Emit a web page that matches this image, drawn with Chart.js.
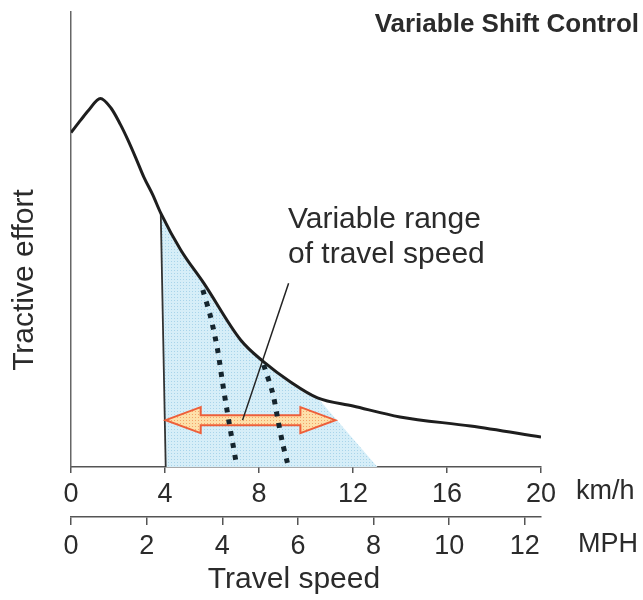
<!DOCTYPE html>
<html>
<head>
<meta charset="utf-8">
<script src="https://cdn.jsdelivr.net/npm/chart.js@4"></script>
<style>
  html, body { margin: 0; padding: 0; background: #fff; }
  #wrap { width: 643px; height: 600px; }
</style>
</head>
<body>
<div id="wrap"><canvas id="chart" width="643" height="600"></canvas></div>
<script>
// tractive effort curve (km/h, relative effort)
const effortX = [0, 0.42, 0.75, 1.25, 1.7, 2.1, 2.42, 2.76, 3.1, 3.48, 3.82, 4.67, 5.65, 7.22, 8.2, 9.34, 10.49, 12, 14, 17, 20];
const effortY = [73.5, 76.3, 78.4, 81, 78.9, 75.3, 71.9, 67.9, 63.7, 59.8, 55.8, 47.7, 40.4, 27.9, 23.1, 18.7, 15.2, 13.4, 11, 9.0, 6.6];

// shaded variable-speed region (closed outline)
const shadeX = [4.03, 3.82, 4.67, 5.65, 7.22, 8.2, 9.34, 10.49, 13.04, 4.03];
const shadeY = [0, 55.8, 47.7, 40.4, 27.9, 23.1, 18.7, 15.2, 0, 0];
const edgeX = [3.82, 4.03];
const edgeY = [55.8, 0];

// dotted shift lines
const dash1X = [5.61, 5.94, 6.24, 6.45, 6.71, 7.01];
const dash1Y = [38.9, 33.0, 25.7, 18.5, 10.3, 1.5];
const dash2X = [8.2, 8.58, 8.79, 9.0, 9.21];
const dash2Y = [22.4, 16.3, 10.8, 5.3, 0.9];

// annotation pointer and double arrow
const pointerX = [9.26, 7.3];
const pointerY = [40.4, 10.3];
const arrowX = [4.03, 11.25];
const arrowY = 10.3;

// axes
const kmhMax = 20;
const kmhStep = 4;
const mphPerKmh = 1 / 1.609344;
const mphStep = 2;

const FONT = '"Liberation Sans", Arial, Helvetica, sans-serif';
const INK = '#2b2b2b';

const pts = (xs, ys) => xs.map((x, i) => ({ x: x, y: ys[i] }));

function makePattern(base, dot) {
    const c = document.createElement('canvas');
    c.width = 3; c.height = 3;
    const g = c.getContext('2d');
    g.fillStyle = base;
    g.fillRect(0, 0, 3, 3);
    g.fillStyle = dot;
    g.fillRect(0, 0, 1, 1);
    return g.createPattern(c, 'repeat');
}

const bluePattern = makePattern('#d6eef8', '#a8d4ea');
const orangePattern = makePattern('#fde0aa', '#f3a26a');

const extras = {
    id: 'extras',
    beforeDatasetDraw(chart, args) {
        if (args.index !== 3) return;
        const { ctx, scales } = chart;
        const x0 = scales.x.getPixelForValue(arrowX[0]);
        const x1 = scales.x.getPixelForValue(arrowX[1]);
        const yc = scales.y.getPixelForValue(arrowY);
        const hl = 35, hh = 13, sh = 5;
        ctx.save();
        ctx.beginPath();
        ctx.moveTo(x0, yc);
        ctx.lineTo(x0 + hl, yc - hh);
        ctx.lineTo(x0 + hl, yc - sh);
        ctx.lineTo(x1 - hl, yc - sh);
        ctx.lineTo(x1 - hl, yc - hh);
        ctx.lineTo(x1, yc);
        ctx.lineTo(x1 - hl, yc + hh);
        ctx.lineTo(x1 - hl, yc + sh);
        ctx.lineTo(x0 + hl, yc + sh);
        ctx.lineTo(x0 + hl, yc + hh);
        ctx.closePath();
        ctx.fillStyle = orangePattern;
        ctx.fill();
        ctx.lineJoin = 'miter';
        ctx.strokeStyle = '#ee5f3a';
        ctx.lineWidth = 2;
        ctx.stroke();
        ctx.restore();
    },
    afterDraw(chart) {
        const { ctx, chartArea, scales } = chart;
        ctx.save();
        ctx.fillStyle = INK;
        ctx.textBaseline = 'middle';

        ctx.font = 'bold 26px ' + FONT;
        ctx.textAlign = 'right';
        ctx.fillText('Variable Shift Control', 639, 25);

        ctx.font = '30px ' + FONT;
        ctx.textAlign = 'left';
        ctx.fillText('Variable range', 288, 220);
        ctx.fillText('of travel speed', 288, 255);

        ctx.font = '27px ' + FONT;
        ctx.fillText('km/h', chartArea.right + 35, scales.x.top + 25);
        ctx.fillText('MPH', chartArea.right + 37, scales.mph.top + 28);

        ctx.font = '30px ' + FONT;
        ctx.textAlign = 'center';
        ctx.fillText('Travel speed', 294, 580);

        ctx.translate(25, 280);
        ctx.rotate(-Math.PI / 2);
        ctx.fillText('Tractive effort', 0, 0);
        ctx.restore();
    }
};

new Chart(document.getElementById('chart'), {
    type: 'line',
    data: {
        datasets: [
            {
                data: pts(shadeX, shadeY),
                order: 6,
                borderWidth: 0,
                backgroundColor: bluePattern,
                fill: 'shape',
                tension: 0,
                pointRadius: 0
            },
            {
                data: pts(edgeX, edgeY),
                order: 5,
                borderColor: '#333',
                borderWidth: 1.8,
                fill: false,
                pointRadius: 0
            },
            {
                data: pts(effortX, effortY),
                order: 4,
                borderColor: '#1e1e1e',
                borderWidth: 3,
                cubicInterpolationMode: 'monotone',
                fill: false,
                pointRadius: 0
            },
            {
                data: pts(dash1X, dash1Y),
                order: 3,
                borderColor: '#15252e',
                borderWidth: 5,
                borderDash: [5, 7],
                borderCapStyle: 'butt',
                tension: 0.3,
                fill: false,
                pointRadius: 0
            },
            {
                data: pts(dash2X, dash2Y),
                order: 2,
                borderColor: '#15252e',
                borderWidth: 5,
                borderDash: [5, 7],
                borderCapStyle: 'butt',
                tension: 0.3,
                fill: false,
                pointRadius: 0
            },
            {
                data: pts(pointerX, pointerY),
                order: 1,
                borderColor: '#222',
                borderWidth: 1.5,
                fill: false,
                pointRadius: 0
            }
        ]
    },
    options: {
        responsive: false,
        animation: false,
        layout: {
            padding: { left: 71, right: 102, top: 12, bottom: 0 }
        },
        plugins: {
            legend: { display: false },
            tooltip: { enabled: false }
        },
        scales: {
            x: {
                type: 'linear',
                position: 'bottom',
                weight: 0,
                min: 0,
                max: kmhMax,
                afterFit: (scale) => { scale.height = 50; },
                ticks: {
                    stepSize: kmhStep,
                    maxRotation: 0,
                    autoSkip: false,
                    padding: 5,
                    color: INK,
                    font: { family: FONT, size: 27 }
                },
                grid: {
                    drawOnChartArea: false,
                    drawTicks: true,
                    tickLength: 6,
                    color: '#555',
                    lineWidth: 1.5
                },
                border: { color: '#555', width: 1.5 }
            },
            mph: {
                type: 'linear',
                position: 'bottom',
                weight: 1,
                min: 0,
                max: kmhMax * mphPerKmh,
                afterFit: (scale) => { scale.height = 83; },
                ticks: {
                    stepSize: mphStep,
                    includeBounds: false,
                    maxRotation: 0,
                    autoSkip: false,
                    padding: 5,
                    color: INK,
                    font: { family: FONT, size: 27 }
                },
                grid: {
                    drawOnChartArea: false,
                    drawTicks: true,
                    tickLength: 8,
                    color: '#555',
                    lineWidth: 1.5
                },
                border: { color: '#555', width: 1.5 }
            },
            y: {
                min: 0,
                max: 100,
                afterFit: (scale) => { scale.width = 0; },
                ticks: { display: false },
                grid: { display: false, drawTicks: false },
                border: { color: '#666', width: 1.5 }
            }
        }
    },
    plugins: [extras]
});
</script>
</body>
</html>
